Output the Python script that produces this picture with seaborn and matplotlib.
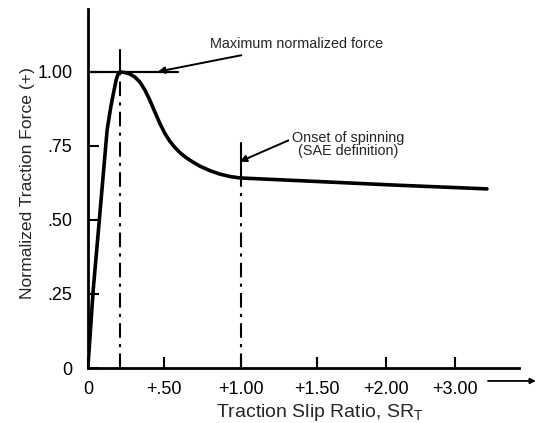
import matplotlib
matplotlib.use("Agg")
import matplotlib.pyplot as plt
import seaborn as sns
import pandas as pd

# Traction curve: slip ratio (plot position) vs normalized traction force
slip_ratio = [0, 0.035, 0.075, 0.126, 0.150, 0.170, 0.185, 0.196, 0.209,
              0.242, 0.275, 0.307, 0.340, 0.373, 0.405, 0.438, 0.471, 0.503,
              0.536, 0.569, 0.601, 0.634, 0.667, 0.732, 0.797, 0.863, 0.928, 0.993,
              1.5, 2.0, 2.61]
traction_force = [0, 0.264, 0.500, 0.804, 0.882, 0.935, 0.973, 0.991, 1.0,
                  0.998, 0.993, 0.983, 0.966, 0.939, 0.905, 0.865, 0.826, 0.793,
                  0.766, 0.745, 0.728, 0.714, 0.702, 0.682, 0.667, 0.655, 0.647, 0.642,
                  0.630, 0.618, 0.605]

# Axis ticks
x_tick_pos = [0, 0.5, 1.0, 1.5, 1.95, 2.4]
x_tick_labels = ["0", "+.50", "+1.00", "+1.50", "+2.00", "+3.00"]
y_tick_pos = [0, 0.25, 0.50, 0.75, 1.00]
y_tick_labels = ["0", ".25", ".50", ".75", "1.00"]

# Reference markers
peak_slip = 0.21
peak_force = 1.0
spin_slip = 1.0
spin_force = 0.642

sns.set_style("ticks")
plt.rcParams["font.family"] = ["Liberation Sans", "DejaVu Sans"]

fig = plt.figure(figsize=(5.39, 4.23), dpi=100)
ax = fig.add_axes([0.163, 0.130, 0.800, 0.849])

df = pd.DataFrame({"slip": slip_ratio, "force": traction_force})
sns.lineplot(data=df, x="slip", y="force", ax=ax, color="black", linewidth=2.6,
             sort=False, estimator=None, solid_joinstyle="round",
             solid_capstyle="round")

# Maximum force line and vertical marker at the peak
ax.plot([0, 0.59], [peak_force, peak_force], color="black", linewidth=1.6)
ax.plot([peak_slip, peak_slip], [0, peak_force], color="black", linewidth=1.5,
        linestyle=(0, (7, 3, 1.5, 3)))
ax.plot([peak_slip, peak_slip], [peak_force, 1.074], color="black", linewidth=1.5)

# Onset of spinning marker
ax.plot([spin_slip, spin_slip], [0, spin_force], color="black", linewidth=1.5,
        linestyle=(0, (7, 3, 1.5, 3)))
ax.plot([spin_slip, spin_slip], [spin_force, 0.76], color="black", linewidth=1.5)

ax.annotate("Maximum normalized force", xy=(0.458, 1.001), xytext=(0.797, 1.093),
            fontsize=10.4, ha="left", va="center",
            arrowprops=dict(arrowstyle="-|>", color="black", lw=1.4,
                            shrinkA=2, shrinkB=0, mutation_scale=10))
ax.annotate("Onset of spinning\n(SAE definition)", xy=(0.993, 0.697),
            xytext=(1.70, 0.755), fontsize=10.4, ha="center", va="center",
            linespacing=0.95,
            arrowprops=dict(arrowstyle="-|>", color="black", lw=1.4,
                            shrinkA=0, shrinkB=0, mutation_scale=10,
                            relpos=(0.0, 0.7)))

ax.set_xlim(0, 2.82)
ax.set_ylim(0, 1.213)
ax.set_xticks(x_tick_pos)
ax.set_xticklabels(x_tick_labels, fontsize=13)
ax.set_yticks(y_tick_pos)
ax.set_yticklabels(y_tick_labels, fontsize=13)
ax.tick_params(axis="both", direction="in", length=8, width=1.5, color="black",
               labelcolor="black")
ax.tick_params(axis="x", pad=9)
ax.tick_params(axis="y", pad=11)

ax.set_xlabel("Traction Slip Ratio, SR$_\\mathregular{T}$", fontsize=14)
ax.set_ylabel("Normalized Traction Force (+)", fontsize=12.6)
ax.xaxis.set_label_coords(0.538, -0.095)
ax.yaxis.set_label_coords(-0.123, 0.515)

sns.despine(ax=ax)
for side in ("left", "bottom"):
    ax.spines[side].set_linewidth(2.0)
    ax.spines[side].set_color("black")

# Direction arrow beside the x tick labels
ax.annotate("", xy=(1.039, -0.036), xytext=(0.928, -0.036),
            xycoords="axes fraction", textcoords="axes fraction",
            arrowprops=dict(arrowstyle="-|>", color="black", lw=1.3,
                            mutation_scale=8, shrinkA=0, shrinkB=0),
            annotation_clip=False)

fig.savefig("out.png", dpi=100, facecolor="white")
